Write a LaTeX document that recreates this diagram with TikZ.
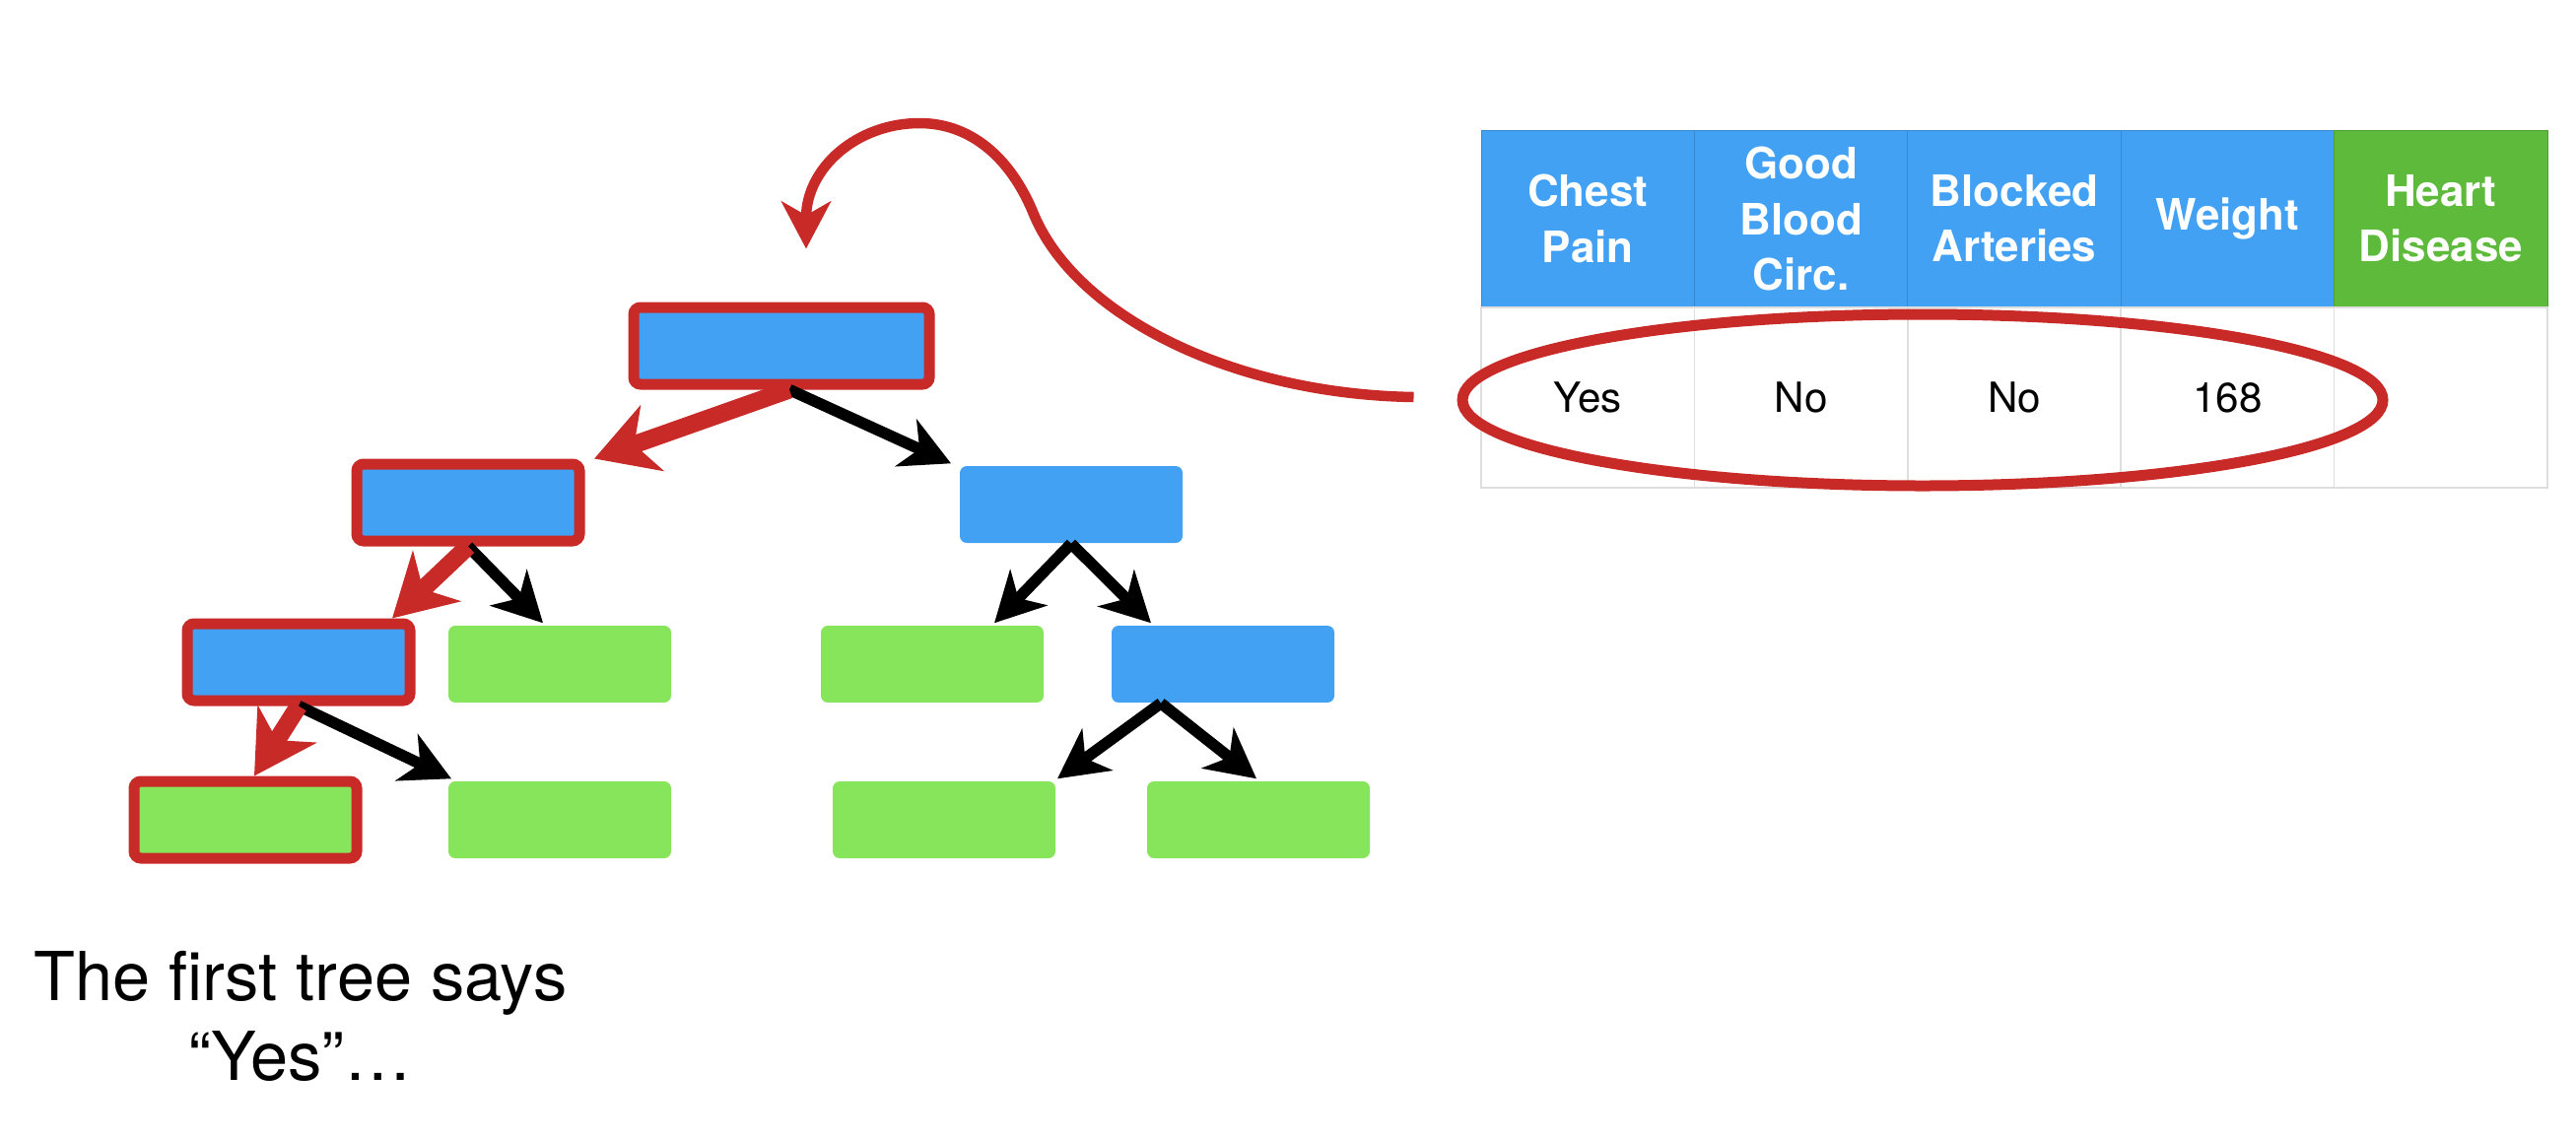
\documentclass[tikz,border=0pt]{standalone}
\usepackage{fontspec}
\setmainfont{TeX Gyre Heros}
\usepackage{tikz}
\usetikzlibrary{arrows.meta,calc,shapes.geometric}
\definecolor{treeblue}{RGB}{66,161,243}
\definecolor{treegreen}{RGB}{134,229,90}
\definecolor{pickred}{RGB}{200,42,40}
\definecolor{headgreen}{RGB}{93,186,58}
\definecolor{gridgray}{RGB}{222,222,222}

\begin{document}
\begin{tikzpicture}[x=0.1mm, y=-0.1mm,
    split/.style={rectangle, rounded corners=0.7mm, fill=treeblue, minimum width=22.6mm, minimum height=7.8mm, inner sep=0pt},
    leaf/.style={split, fill=treegreen},
    picked/.style={draw=pickred, line width=1.1mm},
    arr/.style={line width=1.15mm, -{Stealth[length=5mm, width=5.2mm, inset=1.5mm]}},
    redarr/.style={pickred, line width=1.8mm, -{Stealth[length=6.2mm, width=7mm, inset=1.9mm]}},
    curvarr/.style={pickred, line width=1.05mm, -{Stealth[length=4.8mm, width=5mm, inset=1.4mm]}},
    hcell/.style={rectangle, fill=treeblue, draw=treeblue!85!black, line width=0.1mm, minimum width=21.64mm, minimum height=18mm, inner sep=0pt, text=white, align=center, font=\fontsize{12.5}{16}\selectfont\bfseries},
    rcell/.style={rectangle, draw=gridgray, line width=0.15mm, minimum width=21.64mm, minimum height=18.3mm, inner sep=0pt, font=\fontsize{12}{14}\selectfont}]

    \useasboundingbox (0,0) rectangle (2614,1156);

    % Tree
    \node[split, picked, minimum width=30mm] (root) at (793,351) {};
    \node[split, picked] (a1) at (475,510) {};
    \node[split] (a2) at (1087,512) {};
    \node[split, picked] (b1) at (303,672) {};
    \node[leaf] (b2) at (568,674) {};
    \node[leaf] (b3) at (946,674) {};
    \node[split] (b4) at (1241,674) {};
    \node[leaf, picked] (c1) at (249,832) {};
    \node[leaf] (c2) at (568,832) {};
    \node[leaf] (c3) at (958,832) {};
    \node[leaf] (c4) at (1277,832) {};

    % Branches
    \foreach \p/\sx/\c/\dx in {root/8/a2/-122, a1/0/b2/-17, b1/0/c2/-110, a2/0/b3/63, a2/0/b4/-73, b4/-63/c3/115, b4/-63/c4/-2}
        \draw[arr] ($(\p.south)+(\sx,0)$) -- ($(\c.north)+(\dx,-2)$);
    \foreach \p/\sx/\c/\dx in {root/8/a1/128, a1/0/b1/95, b1/0/c1/9}
        \draw[redarr] ($(\p.south)+(\sx,0)$) -- ($(\c.north)+(\dx,0)$);

    % Table
    \foreach \lbl [count=\k] in {{Chest\\Pain}, {Good\\Blood\\Circ.}, {Blocked\\Arteries}, {Weight}}
        \node[hcell] (hd\k) at ({1394.8+216.4*\k},222) {\lbl};
    \node[hcell, fill=headgreen, draw=headgreen!85!black] (hd5) at (2476.8,222) {Heart\\Disease};
    \foreach \val [count=\k] in {Yes, No, No, 168, {}}
        \node[rcell] (rw\k) at ({1394.8+216.4*\k},403.5) {\val};

    % Selected sample
    \node[ellipse, draw=pickred, line width=1.1mm, minimum width=93.4mm, minimum height=17.4mm, inner sep=0pt] (pick) at (1951,406) {};
    \draw[curvarr] ($(pick.west)+(-44,-3)$) .. controls (1250,400) and (1090,320) .. (1048,215)
        .. controls (1025,160) and (985,125) .. (933,125)
        .. controls (870,125) and (818,170) .. ($(root.north)+(25,-54)$);

    % Caption
    \node[align=center, font=\fontsize{19.5}{23}\selectfont] (say) at (305,1031) {The first tree says\\“Yes”…};
\end{tikzpicture}
\end{document}
